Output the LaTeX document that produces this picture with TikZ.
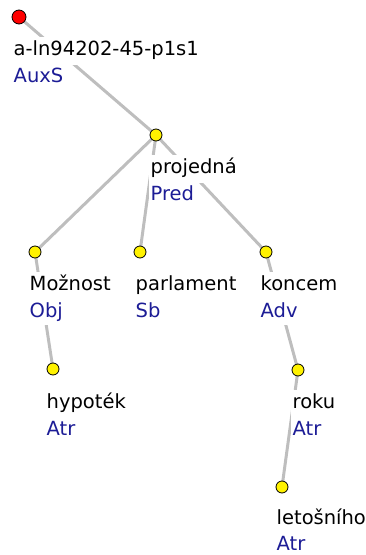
\documentclass[tikz,border=0pt]{standalone}
\usepackage{fontspec}
\setmainfont{DejaVu Sans}
\definecolor{funccol}{RGB}{28,28,150}
\definecolor{edgecol}{RGB}{190,190,190}
\pgfdeclarelayer{edges}
\pgfdeclarelayer{labels}
\pgfsetlayers{edges,labels,main}
\tikzset{
  x=1pt, y=-1pt,
  dot/.style={circle, draw=black, line width=0.8pt, fill=yellow, minimum size=12pt, inner sep=0pt},
  rootdot/.style={dot, fill=red, minimum size=14pt},
  word/.style={anchor=base west, fill=white, inner xsep=1.5pt, inner ysep=4.5pt,
    text height=14pt, text depth=5pt, font=\fontsize{19.5}{23}\selectfont},
  func/.style={word, text=funccol, inner ysep=3pt},
  edge/.style={draw=edgecol, line width=3pt}
}
\begin{document}
\begin{tikzpicture}
\useasboundingbox (0,0) rectangle (366,555);

% tree nodes
\node[rootdot] (r) at (19,17) {};
\node[dot] (pred) at (156,135) {};
\node[dot] (obj) at (35,252) {};
\node[dot] (sb) at (140,252) {};
\node[dot] (adv) at (266,252) {};
\node[dot] (hyp) at (53,369) {};
\node[dot] (roku) at (298,370) {};
\node[dot] (let) at (282,487) {};

% labels
\begin{pgfonlayer}{labels}
\node[word] (rt) at (12,55) {a-ln94202-45-p1s1};
\node[func] (rf) at (12,82) {AuxS};
\node[word] (pt) at (149,173) {projedná};
\node[func] (pf) at (149,200) {Pred};
\node[word] (ot) at (28,290) {Možnost};
\node[func] (of) at (28,317) {Obj};
\node[word] (st) at (134,290) {parlament};
\node[func] (sf) at (134,317) {Sb};
\node[word] (at) at (259,290) {koncem};
\node[func] (af) at (259,317) {Adv};
\node[word] (ht) at (45,408) {hypoték};
\node[func] (hf) at (45,435) {Atr};
\node[word] (kt) at (291,408) {roku};
\node[func] (kf) at (291,435) {Atr};
\node[word] (lt) at (275,524) {letošního};
\node[func] (lf) at (275,550) {Atr};
\end{pgfonlayer}

% dependency edges
\begin{pgfonlayer}{edges}
\draw[edge] (r.center) -- (pred.center);
\draw[edge] (pred.center) -- (obj.center);
\draw[edge] (pred.center) -- (sb.center);
\draw[edge] (pred.center) -- (adv.center);
\draw[edge] (obj.center) -- (hyp.center);
\draw[edge] (adv.center) -- (roku.center);
\draw[edge] (roku.center) -- (let.center);
\end{pgfonlayer}
\end{tikzpicture}
\end{document}
